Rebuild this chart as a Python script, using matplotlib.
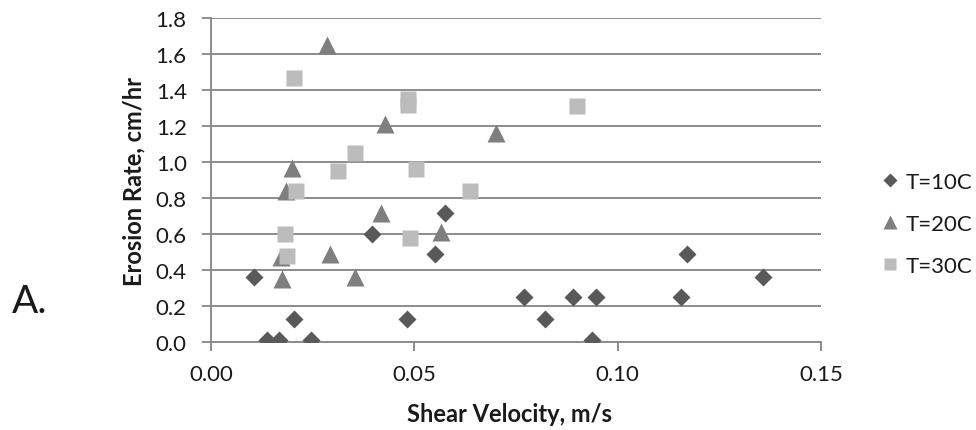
#!/usr/bin/env python3
"""Erosion rate vs shear velocity at three temperatures (panel A)."""

import matplotlib

matplotlib.use("Agg")
import matplotlib.pyplot as plt

# T=10C (diamonds)
t10_x = [0.0106, 0.0137, 0.0168, 0.0204, 0.0247, 0.0396, 0.0481, 0.0550, 0.0575,
         0.0769, 0.0821, 0.0889, 0.0936, 0.0946, 0.1155, 0.1170, 0.1357]
t10_y = [0.36, 0.01, 0.01, 0.13, 0.01, 0.60, 0.13, 0.49, 0.72,
         0.25, 0.13, 0.25, 0.01, 0.25, 0.25, 0.49, 0.36]

# T=20C (triangles)
t20_x = [0.0174, 0.0172, 0.0184, 0.0200, 0.0284, 0.0292, 0.0355, 0.0419, 0.0429,
         0.0565, 0.0700]
t20_y = [0.35, 0.47, 0.84, 0.97, 1.65, 0.49, 0.36, 0.72, 1.21,
         0.61, 1.16]

# T=30C (squares)
t30_x = [0.0182, 0.0186, 0.0204, 0.0208, 0.0313, 0.0354, 0.0485, 0.0485, 0.0489,
         0.0505, 0.0636, 0.0901]
t30_y = [0.60, 0.48, 1.47, 0.84, 0.95, 1.05, 1.35, 1.32, 0.58,
         0.96, 0.84, 1.31]

labels = ["T=10C", "T=20C", "T=30C"]

plt.rcParams["font.family"] = ["Lato", "DejaVu Sans"]

GRID = "#8c8c8c"
TEXT = "#1a1a1a"

fig = plt.figure(figsize=(9.76, 4.31), dpi=100)
ax = fig.add_axes([0.2162, 0.2042, 0.625, 0.751])

h1, = ax.plot(t10_x, t10_y, "D", ms=8.7, color="#595959", mec="none", zorder=3)
h2, = ax.plot(t20_x, t20_y, "^", ms=12.5, color="#7f7f7f", mec="none", zorder=3)
h3, = ax.plot(t30_x, t30_y, "s", ms=11, color="#bcbcbc", mec="none", zorder=3)

ax.set_xlim(0, 0.15)
ax.set_ylim(0, 1.8)
ax.set_xticks([0.0, 0.05, 0.10, 0.15])
ax.set_xticklabels(["0.00", "0.05", "0.10", "0.15"])
ax.set_yticks([i * 0.2 for i in range(10)])
ax.set_yticklabels([f"{i * 0.2:.1f}" for i in range(10)])

ax.grid(True, axis="y", color=GRID, linewidth=1.4, zorder=0)
ax.set_axisbelow(True)
for side in ["top", "right"]:
    ax.spines[side].set_visible(False)
for side in ["left", "bottom"]:
    ax.spines[side].set_color(GRID)
    ax.spines[side].set_linewidth(1.4)
ax.tick_params(axis="both", colors=GRID, width=1.4, length=6.5,
               labelcolor=TEXT, labelsize=16)
ax.tick_params(axis="y", pad=11)
ax.tick_params(axis="x", pad=9)

ax.set_ylabel("Erosion Rate, cm/hr", fontsize=17, fontweight="bold", color=TEXT)
ax.yaxis.set_label_coords(-0.108, 0.5)
ax.set_xlabel("Shear Velocity, m/s", fontsize=17, fontweight="bold", color=TEXT)
ax.xaxis.set_label_coords(0.49, -0.185)

fig.legend([h1, h2, h3], labels, loc="center left",
           bbox_to_anchor=(883.4 / 976, 1 - 225 / 431),
           frameon=False, fontsize=16, handlelength=0.6, handletextpad=0.38,
           labelspacing=1.0, borderpad=0, borderaxespad=0, markerscale=0.85,
           labelcolor=TEXT)

fig.text(12 / 976, 1 - 302 / 431, "A.", fontsize=28, color=TEXT,
         ha="left", va="center")

fig.savefig("out.png", dpi=100)
